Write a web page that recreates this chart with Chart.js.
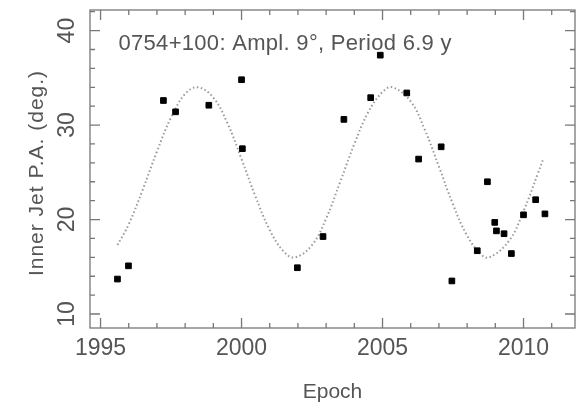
<!DOCTYPE html>
<html>
<head>
<meta charset="utf-8">
<script src="https://cdn.jsdelivr.net/npm/chart.js@4.4.0/dist/chart.umd.min.js"></script>
<style>
  html, body { margin: 0; padding: 0; background: #fff; }
  canvas { display: block; }
</style>
</head>
<body>
<canvas id="grafico" width="580" height="404"></canvas>
<script>
// measured epochs and inner jet position angles
const epoch = [1995.60, 1995.99, 1997.23, 1997.66, 1998.84, 2000.00, 2000.03,
  2001.98, 2002.89, 2003.63, 2004.58, 2004.92, 2005.86, 2006.28, 2007.08,
  2007.46, 2008.36, 2008.72, 2008.98, 2009.04, 2009.31, 2009.57, 2010.00,
  2010.43, 2010.76];
const posAngle = [13.7, 15.1, 32.6, 31.4, 32.1, 34.8, 27.5, 14.9, 18.2, 30.6,
  32.9, 37.4, 33.4, 26.4, 27.7, 13.5, 16.7, 24.0, 19.7, 18.8, 18.5, 16.4,
  20.5, 22.1, 20.6];

// fitted precession curve (dotted)
const fitEpoch = [1995.6, 1996.0, 1996.5, 1997.0, 1997.5, 1998.0, 1998.45,
  1999.0, 1999.5, 2000.0, 2000.5, 2001.0, 2001.5, 2001.9, 2002.5, 2003.0,
  2003.5, 2004.0, 2004.5, 2005.0, 2005.35, 2006.0, 2006.5, 2007.0, 2007.5,
  2008.0, 2008.5, 2008.8, 2009.5, 2010.0, 2010.5, 2010.7];
const fitAngle = [17.3, 19.5, 23.2, 27.2, 30.8, 33.3, 34.0, 32.9, 30.2, 26.4,
  22.4, 18.9, 16.6, 16.0, 17.3, 20.1, 24.0, 28.0, 31.4, 33.5, 34.0, 32.5,
  29.5, 25.6, 21.6, 18.3, 16.3, 16.0, 17.8, 20.9, 24.8, 26.4];

const xTickLabels = [1995, 2000, 2005, 2010];
const yTickLabels = [10, 20, 30, 40];

const titulo = "0754+100: Ampl. 9\u00b0, Period 6.9 y";
const tituloX = "Epoch";
const tituloY = "Inner Jet P.A. (deg.)";

const corTexto = "#555";
const corEixo = "#777";
const fonte = "'Liberation Sans', Arial, sans-serif";

const fundoBranco = {
  id: "fundoBranco",
  beforeDraw(chart) {
    const c = chart.ctx;
    c.save();
    c.fillStyle = "#fff";
    c.fillRect(0, 0, chart.width, chart.height);
    c.restore();
  },
};

// box frame with inward ticks on all four sides, plus all labels
const moldura = {
  id: "moldura",
  afterDraw(chart) {
    const c = chart.ctx;
    const a = chart.chartArea;
    const sx = chart.scales.x;
    const sy = chart.scales.y;
    c.save();
    c.strokeStyle = corEixo;
    c.lineWidth = 1.3;
    c.strokeRect(a.left, a.top, a.right - a.left, a.bottom - a.top);

    c.beginPath();
    for (let v = 1995; v <= 2011; v++) {
      const px = sx.getPixelForValue(v);
      const len = v % 5 === 0 ? 10 : 5;
      c.moveTo(px, a.bottom); c.lineTo(px, a.bottom - len);
      c.moveTo(px, a.top); c.lineTo(px, a.top + len);
    }
    for (let v = 10; v <= 42; v += 2) {
      const py = sy.getPixelForValue(v);
      const len = v % 10 === 0 ? 10 : 5;
      c.moveTo(a.left, py); c.lineTo(a.left + len, py);
      c.moveTo(a.right, py); c.lineTo(a.right - len, py);
    }
    c.stroke();

    c.fillStyle = corTexto;
    c.font = "23px " + fonte;
    c.textAlign = "center";
    c.textBaseline = "alphabetic";
    xTickLabels.forEach((v) => {
      c.fillText(String(v), sx.getPixelForValue(v), 355);
    });

    yTickLabels.forEach((v) => {
      c.save();
      c.translate(74, sy.getPixelForValue(v));
      c.rotate(-Math.PI / 2);
      c.fillText(String(v), 0, 0);
      c.restore();
    });

    c.font = "21px " + fonte;
    c.fillText(tituloX, (a.left + a.right) / 2, 398);

    c.save();
    c.translate(42.5, 173);
    c.rotate(-Math.PI / 2);
    c.letterSpacing = "1px";
    c.fillText(tituloY, 0, 0);
    c.restore();

    c.font = "22px " + fonte;
    c.textAlign = "left";
    c.letterSpacing = "0.3px";
    c.fillText(titulo, 118.5, 50);
    c.restore();
  },
};

const ctx = document.getElementById("grafico");

const chart = new Chart(ctx, {
  type: "scatter",
  data: {
    datasets: [
      {
        label: "P.A.",
        data: epoch.map((x, i) => ({ x: x, y: posAngle[i] })),
        pointStyle: "rect",
        pointRadius: 4,
        backgroundColor: "#000",
        borderColor: "#000",
        borderWidth: 1,
      },
      {
        label: "fit",
        data: fitEpoch.map((x, i) => ({ x: x, y: fitAngle[i] })),
        showLine: true,
        pointRadius: 0,
        borderColor: "#9a9a9a",
        borderWidth: 2,
        borderDash: [1.5, 2.5],
        tension: 0.4,
      },
    ],
  },
  options: {
    responsive: false,
    animation: false,
    layout: {
      padding: { left: 90, top: 10, right: 3, bottom: 76 },
    },
    scales: {
      x: { type: "linear", min: 1994.626, max: 2011.826, display: false },
      y: { min: 8.52, max: 42.18, display: false },
    },
    plugins: {
      legend: { display: false },
      tooltip: { enabled: false },
    },
  },
  plugins: [fundoBranco, moldura],
});
</script>
</body>
</html>
